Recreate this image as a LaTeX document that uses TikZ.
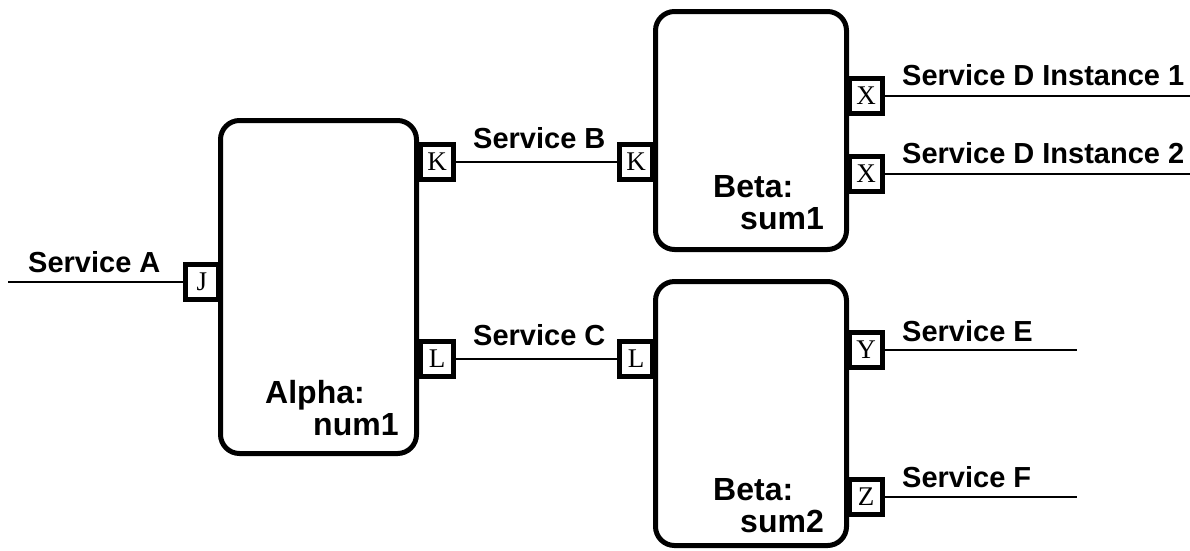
\documentclass[tikz,border=0pt]{standalone}
\usepackage{fontspec}
\setmainfont{Liberation Sans}
\newfontfamily\portfont{Liberation Serif}
\begin{document}
\begin{tikzpicture}[x=1pt,y=-1pt,
  compbox/.style={line width=5pt, rounded corners=19pt},
  port/.style={draw, fill=white, line width=4.8pt, inner sep=0pt,
    minimum width=33pt, minimum height=35pt, font=\portfont\fontsize{27}{27}\selectfont},
  wire/.style={line width=2.8pt},
  svc/.style={font=\bfseries\fontsize{29}{32}\selectfont, inner sep=0pt, anchor=base west},
  cname/.style={font=\bfseries\fontsize{32}{34}\selectfont, inner sep=0pt, anchor=base west}]
\useasboundingbox (0,0) rectangle (1190,550);

% component boxes
\draw[compbox] (220.5,120.5) rectangle (416.5,453.5);
\draw[compbox] (655.5,11.5) rectangle (846.5,249.5);
\draw[compbox] (655.5,281.5) rectangle (846.5,545.5);

% component names
\node[cname] (alphaA) at (265,403) {Alpha:};
\node[cname] (alphaB) at (313,435) {num1};
\node[cname] (betaA) at (713,197) {Beta:};
\node[cname] (betaB) at (740,229) {sum1};
\node[cname] (betaC) at (713,500) {Beta:};
\node[cname] (betaD) at (740,532) {sum2};

% ports
\node[port] (J) at (202,282) {J};
\node[port] (Ka) at (437,162) {K};
\node[port] (La) at (437,359) {L};
\node[port] (Kb) at (636,162) {K};
\node[port] (Lb) at (636,359) {L};
\node[port] (X1) at (866,96) {X};
\node[port] (X2) at (866,174) {X};
\node[port] (Y) at (866,350) {Y};
\node[port] (Z) at (866,497) {Z};

% free ends
\coordinate (sa) at (8,282);
\coordinate (sd1) at (1190,96);
\coordinate (sd2) at (1190,174);
\coordinate (se) at (1077,350);
\coordinate (sf) at (1077,497);

% connectors
\draw[wire] (sa) -- (J.west);
\draw[wire] (Ka.east) -- (Kb.west);
\draw[wire] (La.east) -- (Lb.west);
\draw[wire] (X1.east) -- (sd1);
\draw[wire] (X2.east) -- (sd2);
\draw[wire] (Y.east) -- (se);
\draw[wire] (Z.east) -- (sf);

% labels
\node[svc] (lA) at (28,272) {Service A};
\node[svc] (lB) at (473,148) {Service B};
\node[svc] (lC) at (473,345) {Service C};
\node[svc] (lD1) at (902,85) {Service D Instance 1};
\node[svc] (lD2) at (902,163) {Service D Instance 2};
\node[svc] (lE) at (902,341) {Service E};
\node[svc] (lF) at (902,487) {Service F};
\end{tikzpicture}
\end{document}
